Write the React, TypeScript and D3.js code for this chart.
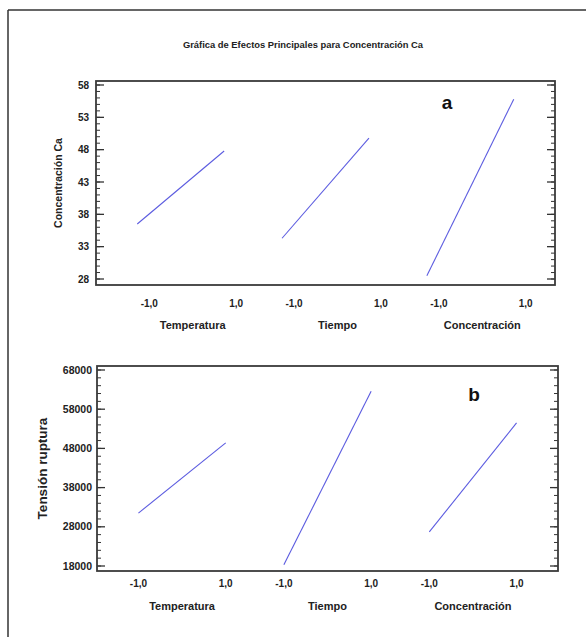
import React from "react";
import * as d3 from "d3";

const factors = ["Temperatura", "Tiempo", "Concentración"];
const levels = [-1, 1];
const levelLabels = ["-1,0", "1,0"];
const caLow = [36.5, 34.3, 28.5];
const caHigh = [47.8, 49.8, 55.8];
const caTicks = [28, 33, 38, 43, 48, 53, 58];
const tensionLow = [31500, 18300, 26700];
const tensionHigh = [49400, 62600, 54500];
const tensionTicks = [18000, 28000, 38000, 48000, 58000, 68000];

const GAP = 4 / 3;
const MARGIN = 0.95;
const pos = (i: number, lvl: number) => i * (2 + GAP) + (lvl + 1);

const FONT = "'Liberation Sans', Arial, sans-serif";
const TXT = "#222";
const LINE = "#5c5ce0";

type PanelProps = {
  left: number;
  right: number;
  frameTop: number;
  frameBottom: number;
  yTop: number;
  yBottom: number;
  ticks: number[];
  minorStep: number;
  low: number[];
  high: number[];
  tickFont: number;
  tickRight: number;
  yTitle: string;
  yTitleX: number;
  yTitleFont: number;
  labelShift: number;
  tickLabelY: number;
  factorLabelY: number;
  letter: string;
  letterX: number;
  letterY: number;
};

function Panel(p: PanelProps) {
  const x = d3
    .scaleLinear()
    .domain([-MARGIN, pos(2, 1) + MARGIN])
    .range([p.left, p.right]);
  const dom = d3.extent(p.ticks) as [number, number];
  const y = d3.scaleLinear().domain(dom).range([p.yBottom, p.yTop]);
  const minors = d3.range(dom[0], dom[1] + 1e-9, p.minorStep);
  const line = d3
    .line<[number, number]>()
    .x((d) => x(d[0]))
    .y((d) => y(d[1]));
  const yMid = (p.frameTop + p.frameBottom) / 2;
  return (
    <g>
      {minors.map((v, k) => (
        <g key={"m" + k} stroke="#333" strokeWidth={1}>
          <line x1={p.left} x2={p.left + 4} y1={y(v)} y2={y(v)} />
          <line x1={p.right} x2={p.right - 4} y1={y(v)} y2={y(v)} />
        </g>
      ))}
      {p.ticks.map((v, k) => (
        <g key={"t" + k}>
          <line x1={p.left} x2={p.left + 8} y1={y(v)} y2={y(v)} stroke="#333" strokeWidth={1.3} />
          <line x1={p.right} x2={p.right - 8} y1={y(v)} y2={y(v)} stroke="#333" strokeWidth={1.3} />
          <text
            x={p.tickRight}
            y={y(v)}
            dy="0.35em"
            textAnchor="end"
            fontFamily={FONT}
            fontWeight="bold"
            fontSize={p.tickFont}
            fill={TXT}
          >
            {v}
          </text>
        </g>
      ))}
      <rect
        x={p.left}
        y={p.frameTop}
        width={p.right - p.left}
        height={p.frameBottom - p.frameTop}
        fill="none"
        stroke="#3a3a3a"
        strokeWidth={1.8}
      />
      {factors.map((f, i) => (
        <g key={f}>
          <path
            d={line([
              [pos(i, levels[0]), p.low[i]],
              [pos(i, levels[1]), p.high[i]],
            ]) || ""}
            stroke={LINE}
            strokeWidth={1.1}
            fill="none"
          />
          {levels.map((l, j) => (
            <text
              key={j}
              x={x(pos(i, l)) + p.labelShift}
              y={p.tickLabelY}
              dy="0.35em"
              textAnchor="middle"
              fontFamily={FONT}
              fontWeight="bold"
              fontSize={10}
              fill={TXT}
            >
              {levelLabels[j]}
            </text>
          ))}
          <text
            x={x(pos(i, 0)) + p.labelShift}
            y={p.factorLabelY}
            dy="0.35em"
            textAnchor="middle"
            fontFamily={FONT}
            fontWeight="bold"
            fontSize={11}
            fill={TXT}
          >
            {f}
          </text>
        </g>
      ))}
      <text
        transform={`translate(${p.yTitleX},${yMid}) rotate(-90)`}
        dy="0.35em"
        textAnchor="middle"
        fontFamily={FONT}
        fontWeight="bold"
        fontSize={p.yTitleFont}
        fill={TXT}
      >
        {p.yTitle}
      </text>
      <text
        x={p.letterX}
        y={p.letterY}
        dy="0.35em"
        textAnchor="middle"
        fontFamily={FONT}
        fontWeight="bold"
        fontSize={19}
        fill="#111"
      >
        {p.letter}
      </text>
    </g>
  );
}

export default function App() {
  return (
    <svg
      width={586}
      height={637}
      style={{ position: "absolute", left: 0, top: 0, background: "#fff" }}
    >
      <rect x={0} y={0} width={586} height={637} fill="#fff" />
      <line x1={8} y1={10} x2={586} y2={10} stroke="#333" strokeWidth={1.5} />
      <line x1={8} y1={10} x2={8} y2={637} stroke="#333" strokeWidth={1.5} />
      <text
        x={303}
        y={45}
        dy="0.35em"
        textAnchor="middle"
        fontFamily={FONT}
        fontWeight="bold"
        fontSize={9.4}
        fill={TXT}
      >
        Gráfica de Efectos Principales para Concentración Ca
      </text>
      <Panel
        left={96}
        right={555}
        frameTop={81}
        frameBottom={285}
        yTop={85}
        yBottom={279}
        ticks={caTicks}
        minorStep={1}
        low={caLow}
        high={caHigh}
        tickFont={10}
        tickRight={89}
        yTitle="Concentración Ca"
        yTitleX={58}
        yTitleFont={10.5}
        labelShift={12}
        tickLabelY={303}
        factorLabelY={325}
        letter="a"
        letterX={447}
        letterY={102}
      />
      <Panel
        left={97}
        right={558}
        frameTop={366}
        frameBottom={571}
        yTop={370}
        yBottom={566}
        ticks={tensionTicks}
        minorStep={2000}
        low={tensionLow}
        high={tensionHigh}
        tickFont={10.5}
        tickRight={92}
        yTitle="Tensión ruptura"
        yTitleX={42}
        yTitleFont={13.5}
        labelShift={0}
        tickLabelY={583}
        factorLabelY={606}
        letter="b"
        letterX={474}
        letterY={394}
      />
    </svg>
  );
}
